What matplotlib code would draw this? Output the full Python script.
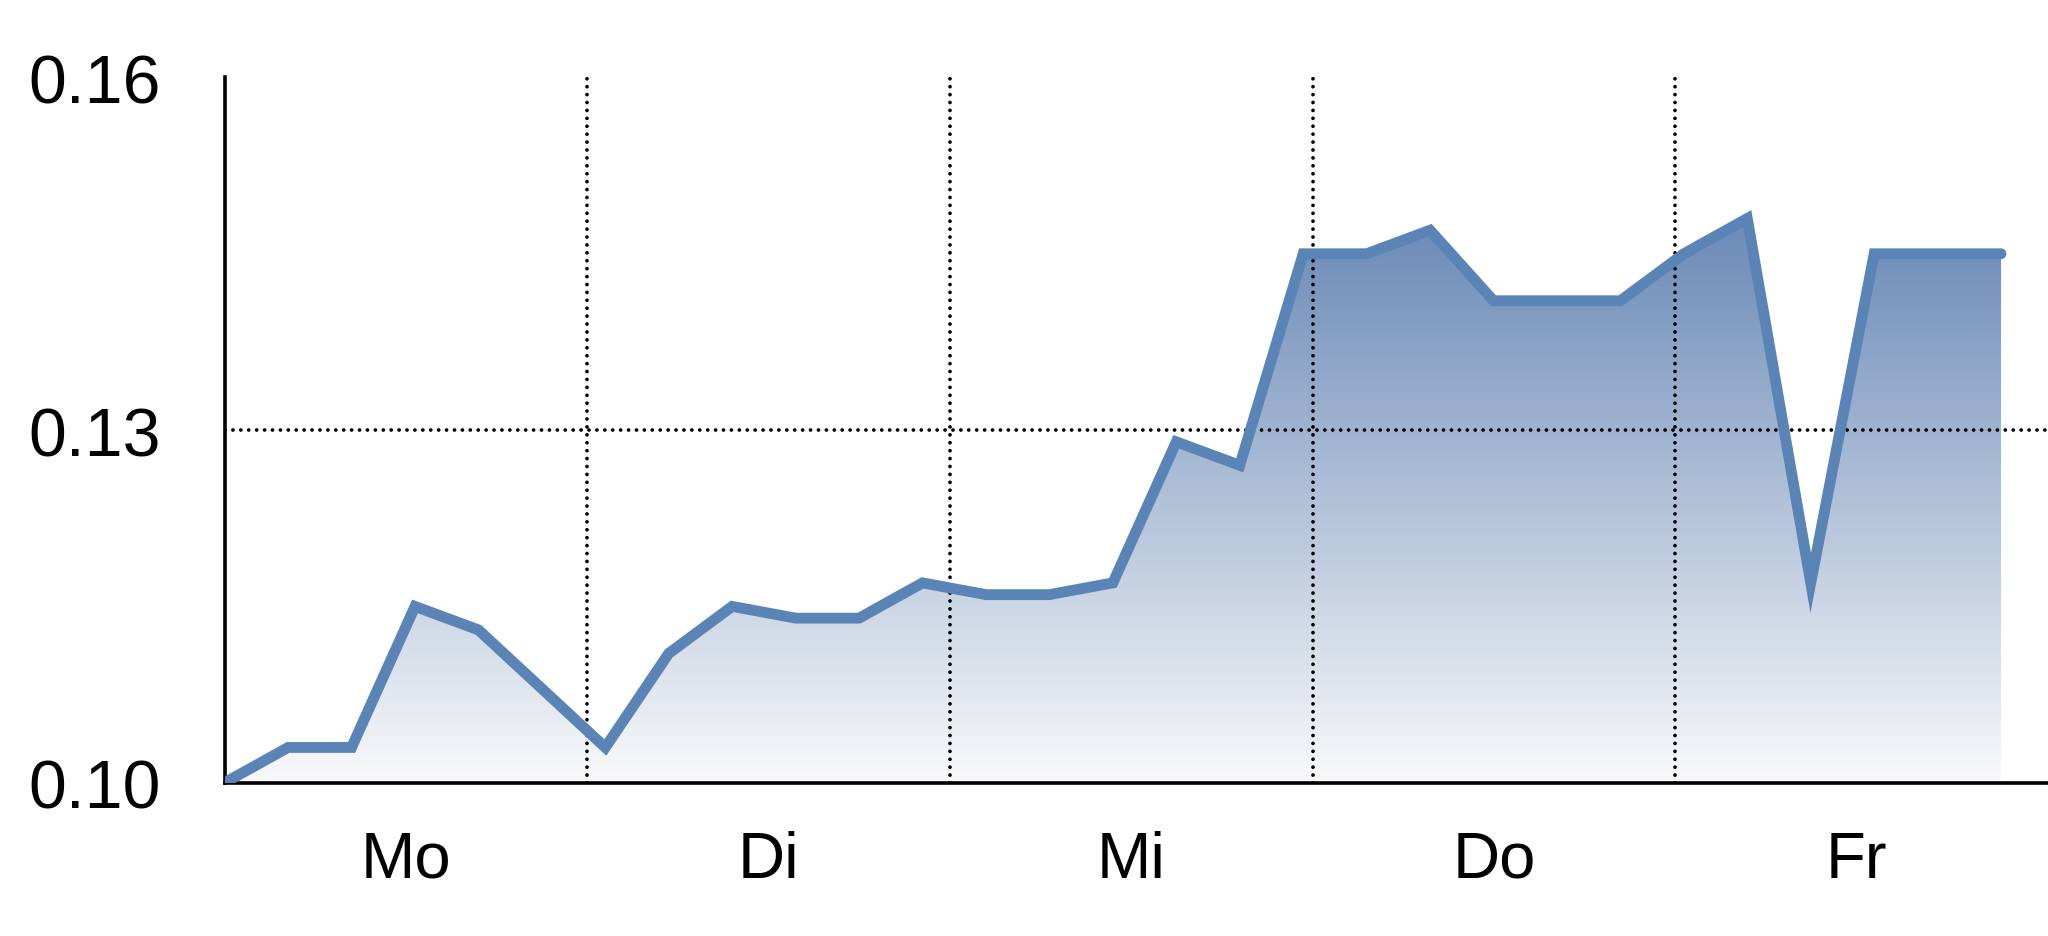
import numpy as np
import matplotlib
matplotlib.use('Agg')
import matplotlib.pyplot as plt
from matplotlib.colors import LinearSegmentedColormap

plt.rcParams['font.family'] = ['Liberation Sans', 'DejaVu Sans']

## data
values = [0.100, 0.103, 0.103, 0.115, 0.113, 0.108, 0.103, 0.111, 0.115, 0.114,
          0.114, 0.117, 0.116, 0.116, 0.117, 0.129, 0.127, 0.145, 0.145, 0.147,
          0.141, 0.141, 0.141, 0.145, 0.148, 0.117, 0.145, 0.145, 0.145]
days = ['Mo', 'Di', 'Mi', 'Do', 'Fr']
y_ticks = [0.10, 0.13, 0.16]
y_ticklabels = ['0.10', '0.13', '0.16']

## layout
day_width = 5.717
x_max = 28.74
line_color = '#5a84b6'

x = np.arange(len(values))
y = np.array(values)

fig = plt.figure(figsize=(20.48, 9.37), dpi=100)
ax = fig.add_axes([0.1097, 0.1636, 1.0 - 0.1097, 0.7527])

## gradient fill under the line
cmap = LinearSegmentedColormap.from_list('fade', ['#f9f9fa', '#466ea6'])
poly = ax.fill_between(x, y, 0.10, color='none', lw=0)
grad = np.linspace(0, 1, 256).reshape(-1, 1)
img = ax.imshow(grad, extent=[0, x_max, 0.10, 0.16], origin='lower',
                aspect='auto', cmap=cmap, zorder=1)
img.set_clip_path(poly.get_paths()[0], transform=ax.transData)

ax.plot(x, y, color=line_color, lw=7.8, solid_joinstyle='miter',
        solid_capstyle='round', zorder=3)

## dotted grid
dots = dict(color='black', lw=2.7, ls=(0, (0.01, 2.1)), dash_capstyle='round', zorder=2)
for k in range(1, 5):
    ax.axvline(k * day_width, **dots)
ax.axhline(0.13, **dots)

ax.set_xlim(0, x_max)
ax.set_ylim(0.10, 0.16)

ax.set_yticks(y_ticks)
ax.set_yticklabels(y_ticklabels)
ax.set_xticks([(k + 0.5) * day_width for k in range(len(days))])
ax.set_xticklabels(days)
ax.tick_params(axis='y', length=0, pad=46, labelsize=49)
ax.tick_params(axis='x', length=0, pad=34, labelsize=47)

for side in ['top', 'right']:
    ax.spines[side].set_visible(False)
for side in ['left', 'bottom']:
    ax.spines[side].set_linewidth(2.6)
    ax.spines[side].set_color('black')

fig.savefig('out.png', dpi=100)
